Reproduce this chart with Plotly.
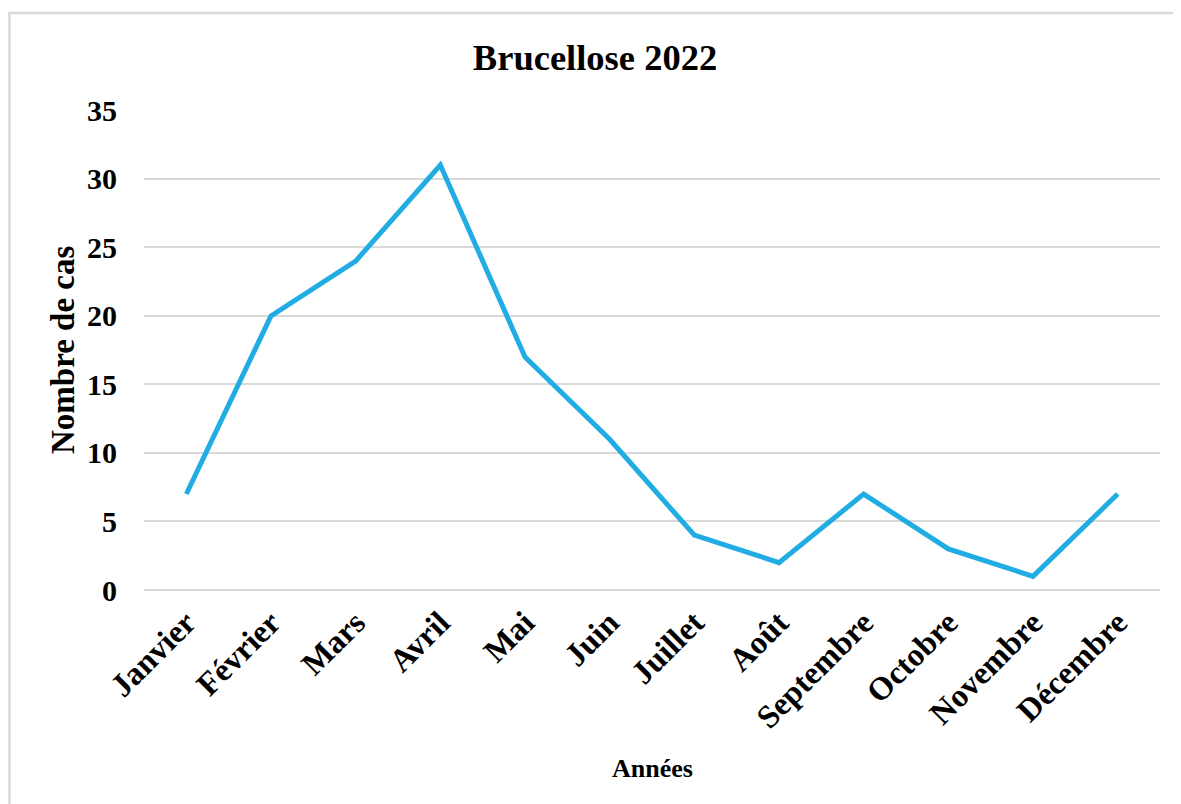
import plotly.graph_objects as go

months = ["Janvier", "Février", "Mars", "Avril", "Mai", "Juin", "Juillet",
          "Août", "Septembre", "Octobre", "Novembre", "Décembre"]
cases = [7, 20, 24, 31, 17, 11, 4, 2, 7, 3, 1, 7]
y_ticks = [0, 5, 10, 15, 20, 25, 30, 35]

FONT = "Liberation Serif"
# page has an 8px body margin; the figure is sized/placed to compensate
W, H = 1173, 796
L, R, T, B = 136, 21, 102, 214
PW, PH = W - L - R, H - T - B

fig = go.Figure()
fig.add_trace(go.Scatter(
    x=months, y=cases, mode="lines",
    line=dict(color="#21ADE3", width=5),
    hoverinfo="x+y", showlegend=False,
))

fig.update_layout(
    width=W, height=H,
    margin=dict(l=L, r=R, t=T, b=B, pad=0),
    paper_bgcolor="white", plot_bgcolor="white",
    font=dict(family=FONT, color="black"),
    title=dict(text="<b>Brucellose 2022</b>", x=587 / W, xref="container", xanchor="center",
               y=1 - 49 / H, yref="container", yanchor="middle",
               font=dict(family=FONT, size=36.5, color="black")),
    xaxis=dict(
        type="category", range=[-0.5, 11.5], tickangle=-45, showgrid=False,
        showline=False, zeroline=False, ticks="",
        tickfont=dict(family=FONT, size=32.5, color="black", weight="bold"),
        ticklabelstandoff=6,
    ),
    yaxis=dict(
        range=[0, 35.02], tickvals=y_ticks, showgrid=True, gridcolor="#D9D9D9", gridwidth=1.5,
        zeroline=True, zerolinecolor="#D9D9D9", zerolinewidth=1.5,
        showline=False, ticks="",
        tickfont=dict(family=FONT, size=30, color="black", weight="bold"),
        ticklabelstandoff=26,
    ),
    annotations=[
        dict(text="<b>Nombre de cas</b>", textangle=-90, xref="paper", yref="paper",
             x=(55 - L) / PW, y=0.5, showarrow=False, xanchor="center", yanchor="middle",
             font=dict(family=FONT, size=33, color="black")),
        dict(text="<b>Années</b>", xref="paper", yref="paper",
             x=(644 - L) / PW, y=(H - B - 760) / PH, showarrow=False,
             xanchor="center", yanchor="middle",
             font=dict(family=FONT, size=26, color="black")),
    ],
    shapes=[dict(type="rect", xref="paper", yref="paper",
                 x0=(1.5 - L) / PW, x1=(W + 20 - L) / PW,
                 y0=(H - B - H - 20) / PH, y1=(H - B - 5) / PH,
                 line=dict(color="#D9D9D9", width=2.5), fillcolor="rgba(0,0,0,0)", layer="below")],
)

fig.write_html("out.html")
